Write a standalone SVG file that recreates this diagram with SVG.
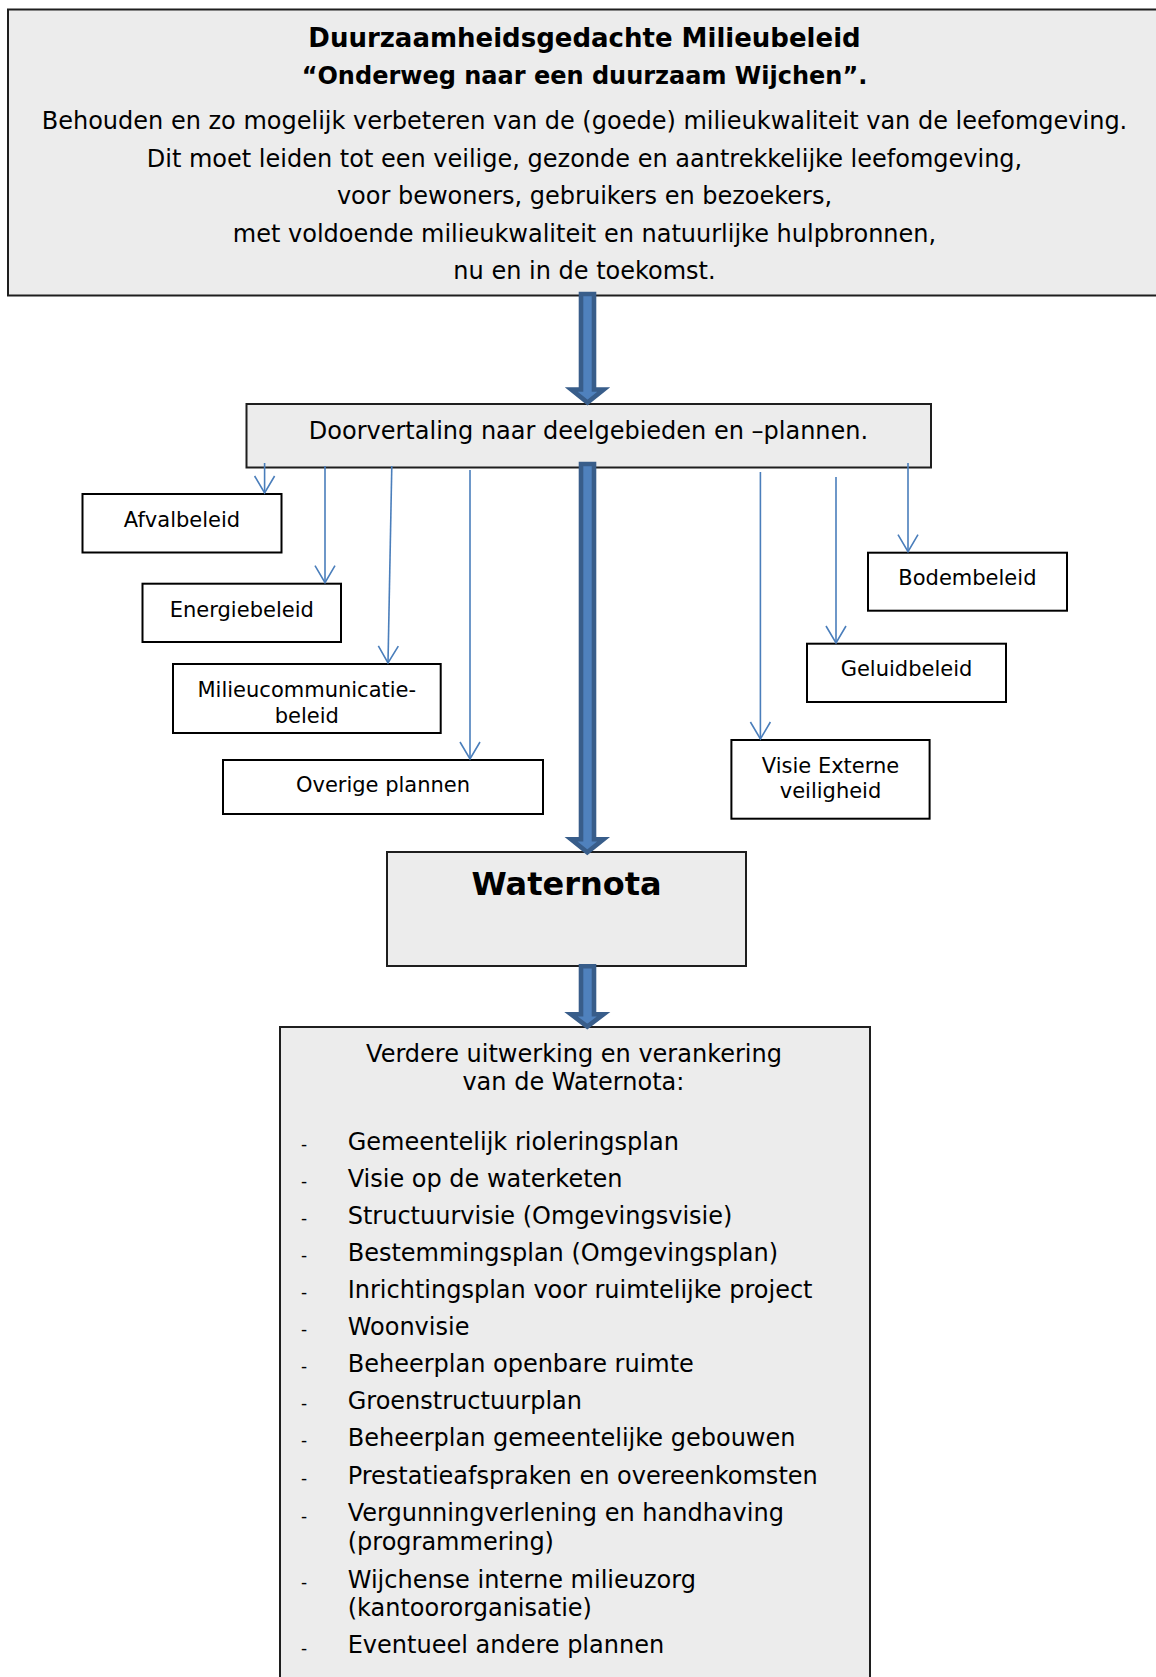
<svg xmlns="http://www.w3.org/2000/svg" width="1156" height="1677" viewBox="0 0 1156 1677">
<defs>
<style>
.t{font-family:"DejaVu Sans",Verdana,sans-serif;fill:#000}
.b{font-weight:bold}
.c{text-anchor:middle}
.gray{fill:#ececec;stroke:#1e1e1e;stroke-width:2}
.white{fill:#fff;stroke:#000;stroke-width:2}
.thin{stroke:#4a7ebb;stroke-width:1.6;fill:none;marker-end:url(#open)}
.big{fill:#4f81bd;stroke:#385d8a;stroke-width:4.6;stroke-linejoin:miter}
.f24{font-size:24px}
.f21{font-size:21px}
.dash{font-size:17px}
</style>
<marker id="open" markerUnits="userSpaceOnUse" viewBox="-19 -12 21 24" refX="0" refY="0" markerWidth="21" markerHeight="24" orient="auto">
<path d="M-17,-10 L0,0 L-17,10" fill="none" stroke="#4a7ebb" stroke-width="1.6"/>
</marker>
</defs>
<rect width="1156" height="1677" fill="#fff"/>

<g id="top">
<rect class="gray" x="8" y="9.5" width="1160" height="286"/>
<text class="t b c" x="584.5" y="46.5" font-size="26">Duurzaamheidsgedachte Milieubeleid</text>
<text class="t b c f24" x="584.5" y="84">“Onderweg naar een duurzaam Wijchen”.</text>
<text class="t c f24" x="584.5" y="129">Behouden en zo mogelijk verbeteren van de (goede) milieukwaliteit van de leefomgeving.</text>
<text class="t c f24" x="584.5" y="166.5">Dit moet leiden tot een veilige, gezonde en aantrekkelijke leefomgeving,</text>
<text class="t c f24" x="584.5" y="204">voor bewoners, gebruikers en bezoekers,</text>
<text class="t c f24" x="584.5" y="241.5">met voldoende milieukwaliteit en natuurlijke hulpbronnen,</text>
<text class="t c f24" x="584.5" y="279">nu en in de toekomst.</text>
</g>

<g id="doorvertaling">
<rect class="gray" x="246.5" y="404" width="684.5" height="63.5"/>
<text class="t c f24" x="588.5" y="439">Doorvertaling naar deelgebieden en –plannen.</text>
</g>

<g id="afvalbeleid">
<rect class="white" x="82.5" y="494" width="199" height="58.5"/>
<text class="t c f21" x="182" y="527">Afvalbeleid</text>
</g>
<g id="energiebeleid">
<rect class="white" x="142.5" y="583.7" width="198.5" height="58.3"/>
<text class="t c f21" x="241.8" y="617">Energiebeleid</text>
</g>
<g id="milieucommunicatiebeleid">
<rect class="white" x="173" y="664" width="267.7" height="69"/>
<text class="t c f21" x="306.8" y="697">Milieucommunicatie-</text>
<text class="t c f21" x="306.8" y="723">beleid</text>
</g>
<g id="overige">
<rect class="white" x="223" y="760" width="320" height="54"/>
<text class="t c f21" x="383" y="792">Overige plannen</text>
</g>
<g id="bodembeleid">
<rect class="white" x="868" y="552.7" width="199" height="58"/>
<text class="t c f21" x="967.4" y="585">Bodembeleid</text>
</g>
<g id="geluidbeleid">
<rect class="white" x="807" y="643.7" width="199" height="58.3"/>
<text class="t c f21" x="906.5" y="676">Geluidbeleid</text>
</g>
<g id="visie">
<rect class="white" x="731.4" y="740" width="198.2" height="78.7"/>
<text class="t c f21" x="830.5" y="773.3">Visie Externe</text>
<text class="t c f21" x="830.5" y="798.3">veiligheid</text>
</g>

<g id="waternota">
<rect class="gray" x="387" y="852" width="359" height="114"/>
<text class="t b c" x="566.5" y="895" font-size="32">Waternota</text>
</g>

<g id="uitwerking">
<rect class="gray" x="280" y="1027" width="590" height="700"/>
<text class="t c f24" x="574" y="1061.7">Verdere uitwerking en verankering</text>
<text class="t c f24" x="573.4" y="1090">van de Waternota:</text>
<g class="t dash">
<text x="301" y="1150">-</text>
<text x="301" y="1187.2">-</text>
<text x="301" y="1224.2">-</text>
<text x="301" y="1261.2">-</text>
<text x="301" y="1298.3">-</text>
<text x="301" y="1335.3">-</text>
<text x="301" y="1372.3">-</text>
<text x="301" y="1409.3">-</text>
<text x="301" y="1446.3">-</text>
<text x="301" y="1484.3">-</text>
<text x="301" y="1521.7">-</text>
<text x="301" y="1588">-</text>
<text x="301" y="1653.5">-</text>
</g>
<g class="t f24">
<text x="347.7" y="1149.7">Gemeentelijk rioleringsplan</text>
<text x="347.7" y="1186.9">Visie op de waterketen</text>
<text x="347.7" y="1223.9">Structuurvisie (Omgevingsvisie)</text>
<text x="347.7" y="1260.9">Bestemmingsplan (Omgevingsplan)</text>
<text x="347.7" y="1298">Inrichtingsplan voor ruimtelijke project</text>
<text x="347.7" y="1335">Woonvisie</text>
<text x="347.7" y="1372">Beheerplan openbare ruimte</text>
<text x="347.7" y="1409">Groenstructuurplan</text>
<text x="347.7" y="1446">Beheerplan gemeentelijke gebouwen</text>
<text x="347.7" y="1484">Prestatieafspraken en overeenkomsten</text>
<text x="347.7" y="1521.4">Vergunningverlening en handhaving</text>
<text x="347.7" y="1549.8">(programmering)</text>
<text x="347.7" y="1587.7">Wijchense interne milieuzorg</text>
<text x="347.7" y="1616">(kantoororganisatie)</text>
<text x="347.7" y="1653.2">Eventueel andere plannen</text>
</g>
</g>

<g id="connectors">
<polygon class="big" points="581,294 594,294 594,389.5 603.7,389.5 587.5,402.5 571.3,389.5 581,389.5"/>
<polygon class="big" points="581,464 594,464 594,839.3 603.5,839.3 587.3,852.3 571.1,839.3 581,839.3"/>
<polygon class="big" points="581,966.3 594,966.3 594,1014.3 603.5,1014.3 587.3,1026.6 571.1,1014.3 581,1014.3"/>
<line class="thin" x1="264.6" y1="463" x2="264.6" y2="493"/>
<line class="thin" x1="325" y1="466" x2="325" y2="582.7"/>
<line class="thin" x1="391.8" y1="466" x2="388" y2="663"/>
<line class="thin" x1="470" y1="470" x2="470" y2="759"/>
<line class="thin" x1="760.4" y1="472" x2="760.4" y2="739"/>
<line class="thin" x1="836" y1="477" x2="836" y2="643"/>
<line class="thin" x1="908" y1="463" x2="908" y2="551.7"/>
</g>
</svg>
